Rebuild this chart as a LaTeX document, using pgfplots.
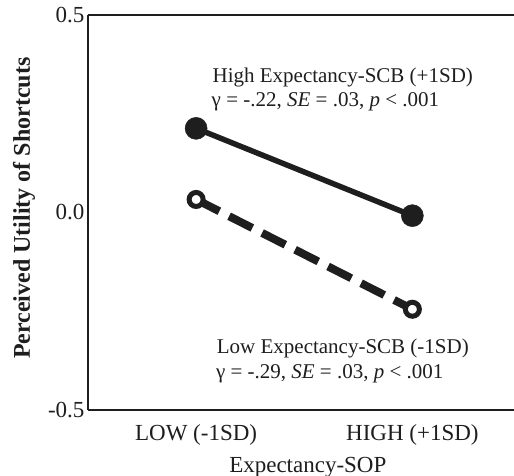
\documentclass[border=0pt]{standalone}
\usepackage{fontspec}
\setmainfont{Liberation Serif}
\usepackage{pgfplots}
\pgfplotsset{compat=1.18}

\definecolor{ink}{HTML}{1E1E1E}

\begin{document}
\begin{tikzpicture}
\useasboundingbox (-88bp,-66bp) rectangle (426bp,410bp);
\begin{axis}[
    at={(0,0)}, anchor=south west,
    scale only axis, width=426bp, height=395bp,
    xmin=-0.5, xmax=1.47, ymin=-0.5, ymax=0.5,
    axis lines*=left,
    axis line style={line width=1.8bp, color=ink},
    major tick length=0pt,
    xtick={0,1}, xticklabels={LOW (-1SD), HIGH (+1SD)},
    ytick={-0.5,0,0.5}, yticklabels={-0.5,0.0,0.5},
    tick label style={font=\fontsize{23bp}{27bp}\selectfont, text=ink},
    xticklabel style={yshift=-11bp},
    xlabel={Expectancy-SOP},
    ylabel={\bfseries Perceived Utility of Shortcuts},
    label style={font=\fontsize{23bp}{27bp}\selectfont, text=ink},
    x label style={at={(axis description cs:0.516,0)}, anchor=base, yshift=-62bp},
    y label style={at={(axis description cs:-0.150,0.511)}, anchor=center,
        font=\fontsize{24bp}{28bp}\selectfont},
    clip=false,
]
% high expectancy-SCB
\addplot[line width=5.5bp, color=ink, mark=*, mark size=11bp,
    mark options={solid, fill=ink, line width=0.5bp}]
  coordinates {(0,0.213) (1,-0.008)};
% low expectancy-SCB
\addplot[line width=8bp, color=ink, dash pattern=on 26bp off 11bp,
    mark=*, mark size=7bp, mark options={solid, fill=white, line width=5bp}]
  coordinates {(0,0.033) (1,-0.245)};

\draw[line width=1.8bp, ink] (rel axis cs:0,1) -- (rel axis cs:1,1);

\begin{scope}[every node/.style={font=\fontsize{21bp}{25bp}\selectfont, text=ink, inner sep=0pt, anchor=base west}]
\node at (rel axis cs:0.292,0.829) {High Expectancy-SCB (+1SD)};
\node at (rel axis cs:0.290,0.768) {γ = -.22, \textit{SE} = .03, \textit{p} < .001};
\node at (rel axis cs:0.302,0.144) {Low Expectancy-SCB (-1SD)};
\node at (rel axis cs:0.300,0.081) {γ = -.29, \textit{SE} = .03, \textit{p} < .001};
\end{scope}
\end{axis}
\end{tikzpicture}
\end{document}
